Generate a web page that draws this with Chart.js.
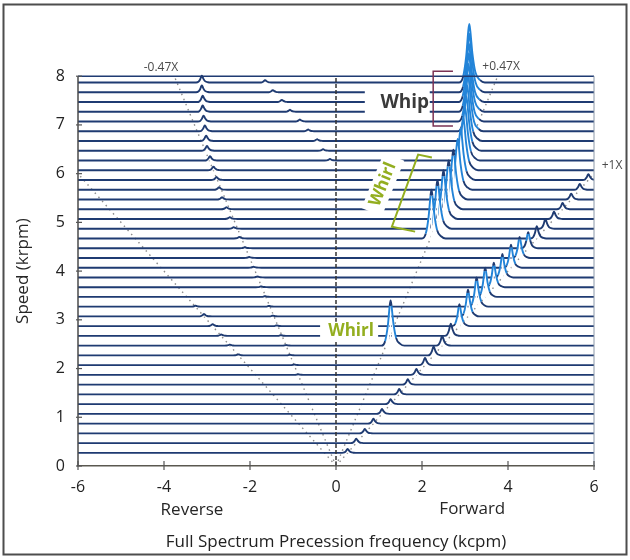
<!DOCTYPE html>
<html>
<head>
<meta charset="utf-8">
<title>Full spectrum cascade</title>
<script src="https://cdn.jsdelivr.net/npm/chart.js@4.4.1/dist/chart.umd.min.js"></script>
<style>
  html, body { margin: 0; padding: 0; background: #fff; }
  #wrap { width: 630px; height: 560px; }
</style>
</head>
<body>
<div id="wrap"><canvas id="cascade" width="630" height="560"></canvas></div>
<script>
// ===================================
// DATA
// ===================================

// rotor speed of each spectrum trace (krpm)
const speeds = [0.27, 0.47, 0.67, 0.87, 1.07, 1.27, 1.47, 1.67, 1.87, 2.07,
    2.27, 2.47, 2.67, 2.87, 3.07, 3.27, 3.47, 3.67, 3.87, 4.07,
    4.27, 4.47, 4.67, 4.87, 5.07, 5.27, 5.47, 5.67, 5.87, 6.07,
    6.27, 6.47, 6.67, 6.87, 7.07, 7.27, 7.47, 7.67, 7.87];

// forward 1X peak height (peak sits at frequency = speed)
const oneXAmp = [0.08, 0.09, 0.09, 0.10, 0.10, 0.10, 0.11, 0.11, 0.12, 0.15,
    0.18, 0.20, 0.25, 0.45, 0.55, 0.60, 0.60, 0.50, 0.48, 0.47,
    0.43, 0.33, 0.25, 0.20, 0.15, 0.13, 0.12, 0.12, 0.12, null,
    null, null, null, null, null, null, null, null, null];

// forward whirl / whip peak
const whirlFreq = [null, null, null, null, null, null, null, null, null, null,
    null, 1.27, null, null, null, null, null, null, null, null,
    null, null, 2.22, 2.36, 2.50, 2.62, 2.73, 2.83, 2.90, 2.96,
    3.00, 3.03, 3.05, 3.07, 3.08, 3.09, 3.09, 3.10, 3.10];
const whirlAmp = [null, null, null, null, null, null, null, null, null, null,
    null, 0.93, null, null, null, null, null, null, null, null,
    null, null, 1.00, 1.00, 1.00, 1.00, 1.02, 1.04, 1.06, 1.08,
    1.10, 1.12, 1.14, 1.16, 1.18, 1.20, 1.20, 1.20, 1.20];

// reverse (-0.47X) component
const revFreq = [null, null, null, null, null, null, null, null, -0.88, -0.97,
    -1.07, -1.16, -1.28, -1.38, -1.47, -1.56, -1.65, -1.74, -1.83, -1.92,
    -2.02, -2.12, -2.25, -2.38, -2.47, -2.55, -2.65, -2.72, -2.78, -2.85,
    -2.93, -3.00, -3.02, -3.05, -3.08, -3.10, -3.10, -3.12, -3.12];
const revAmp = [null, null, null, null, null, null, null, null, 0.012, 0.012,
    0.012, 0.012, 0.015, 0.015, 0.015, 0.015, 0.015, 0.015, 0.02, 0.02,
    0.02, 0.02, 0.03, 0.03, 0.035, 0.04, 0.045, 0.05, 0.06, 0.075,
    0.09, 0.10, 0.11, 0.12, 0.12, 0.13, 0.13, 0.14, 0.14];

// reverse 1X bumps (frequency = -speed)
const revOneXAmp = [null, null, null, null, null, null, null, null, null, null,
    0.02, 0.02, 0.03, 0.04, 0.05, 0.02, null, null, null, null,
    null, null, null, null, null, null, null, null, null, null,
    null, null, null, null, null, null, null, null, null];

// small mixing peaks near zero on the upper traces
const mixFreq = [null, null, null, null, null, null, null, null, null, null,
    null, null, null, null, null, null, null, null, null, null,
    null, null, null, null, null, null, null, null, null, null,
    -0.14, -0.30, -0.44, -0.65, -0.84, -1.07, -1.26, -1.47, -1.65];
const mixAmp = [null, null, null, null, null, null, null, null, null, null,
    null, null, null, null, null, null, null, null, null, null,
    null, null, null, null, null, null, null, null, null, null,
    0.03, 0.03, 0.035, 0.035, 0.04, 0.04, 0.045, 0.045, 0.05];

// dotted order lines: [freq, speed] end points from the origin
const guideMinus1X = [[0, 0], [-6, 6]];
const guideMinusHalf = [[0, 0], [-3.76, 8]];
const guidePlusHalf = [[0, 0], [3.76, 8]];
const guidePlus1X = [[0, 0], [6, 6]];
const zeroLine = [[0, 0], [0, 8]];

const xTicks = [-6, -4, -2, 0, 2, 4, 6];
const yTicks = [0, 1, 2, 3, 4, 5, 6, 7, 8];

// ===================================
// STYLE
// ===================================
const FONT = "'Open Sans', 'Noto Sans', sans-serif";
const TRACE_NAVY = '#1f3b72';
const RIDGE_BLUE = '#2384d8';
const GUIDE_GREY = '#8c8c8c';
const WHIRL_GREEN = '#93ae1f';
const X_MIN = -6, X_MAX = 6, Y_TOP = 9.1;

// relative peak profile [dx in half widths, dy in amplitude]
const peakShape = [[-1, 0], [-0.6, 0.1], [-0.3, 0.45], [-0.1, 0.88], [0, 1],
    [0.1, 0.88], [0.3, 0.5], [0.6, 0.17], [1.05, 0.04], [1.5, 0]];

function peaksFor(i) {
    const list = [];
    if (oneXAmp[i] != null) list.push([speeds[i], oneXAmp[i]]);
    if (whirlFreq[i] != null) list.push([whirlFreq[i], whirlAmp[i]]);
    if (revFreq[i] != null) list.push([revFreq[i], revAmp[i]]);
    if (revOneXAmp[i] != null) list.push([-speeds[i], revOneXAmp[i]]);
    if (mixFreq[i] != null) list.push([mixFreq[i], mixAmp[i]]);
    return list.sort((a, b) => a[0] - b[0]);
}

function tracePoints(i) {
    const s = speeds[i];
    const pts = [{ x: X_MIN, y: s }];
    peaksFor(i).forEach(([f, a]) => {
        const w = 0.12 + 0.1 * a;
        peakShape.forEach(([dx, dy]) => pts.push({ x: f + dx * w, y: s + dy * a }));
    });
    pts.push({ x: X_MAX, y: s });
    return pts;
}

const toXY = pairs => pairs.map(([x, y]) => ({ x, y }));

const traceSets = speeds.map((s, i) => ({
    data: tracePoints(i),
    borderColor: TRACE_NAVY,
    borderWidth: 1.9,
    backgroundColor: '#ffffff',
    fill: { value: s },
    pointRadius: 0,
    cubicInterpolationMode: 'monotone',
    order: 0,
    segment: {
        borderColor: c => {
            const dy = Math.abs(c.p1.y - c.p0.y);
            const dx = Math.abs(c.p1.x - c.p0.x) || 0.01;
            return (dy > 6 && dy / dx > 1.6) ? RIDGE_BLUE : TRACE_NAVY;
        }
    }
}));

const guideSets = [guideMinus1X, guideMinusHalf, guidePlusHalf, guidePlus1X].map(g => ({
    data: toXY(g),
    borderColor: GUIDE_GREY,
    borderWidth: 1.4,
    borderDash: [1.5, 4],
    pointRadius: 0,
    fill: false,
    order: 1
}));

const zeroSet = {
    data: toXY(zeroLine),
    borderColor: '#333333',
    borderWidth: 1.5,
    borderDash: [4, 2],
    pointRadius: 0,
    fill: false,
    order: -1
};

// ===================================
// OVERLAY: frame, labels, annotations
// ===================================
const overlay = {
    id: 'overlay',
    beforeDraw(chart) {
        const { ctx, width, height } = chart;
        ctx.save();
        ctx.fillStyle = '#ffffff';
        ctx.fillRect(0, 0, width, height);
        ctx.restore();
    },
    afterDraw(chart) {
        const { ctx, scales: { x, y } } = chart;
        const px = v => x.getPixelForValue(v);
        const py = v => y.getPixelForValue(v);
        const left = px(X_MIN), right = px(X_MAX), top = py(8), bottom = py(0);

        ctx.save();
        // plot frame
        ctx.lineWidth = 1.5;
        ctx.strokeStyle = '#4a4a4a';
        ctx.beginPath();
        ctx.moveTo(left, top);
        ctx.lineTo(left, bottom);
        ctx.stroke();
        ctx.strokeStyle = TRACE_NAVY;
        ctx.beginPath();
        ctx.moveTo(left, top);
        ctx.lineTo(right, top);
        ctx.stroke();
        ctx.lineWidth = 1;
        ctx.strokeStyle = '#8b98a8';
        ctx.beginPath();
        ctx.moveTo(right, top);
        ctx.lineTo(right, bottom);
        ctx.stroke();

        // tick marks
        ctx.strokeStyle = '#555555';
        ctx.lineWidth = 1.2;
        xTicks.forEach(v => {
            ctx.beginPath();
            ctx.moveTo(px(v), bottom - 5);
            ctx.lineTo(px(v), bottom + 4);
            ctx.stroke();
        });
        yTicks.forEach(v => {
            ctx.beginPath();
            ctx.moveTo(left - 2, py(v));
            ctx.lineTo(left + 4, py(v));
            ctx.stroke();
        });

        // axis words
        ctx.fillStyle = '#262626';
        ctx.textAlign = 'center';
        ctx.textBaseline = 'middle';
        ctx.font = `17px ${FONT}`;
        ctx.fillText('Reverse', px(-3.35), bottom + 44);
        ctx.fillText('Forward', px(3.17), bottom + 43);
        ctx.save();
        ctx.translate(23, (top + bottom) / 2);
        ctx.rotate(-Math.PI / 2);
        ctx.fillText('Speed (krpm)', 0, 0);
        ctx.restore();

        // order labels
        ctx.font = `12px ${FONT}`;
        ctx.fillStyle = '#4a4a4a';
        ctx.fillText('-0.47X', px(-4.07), py(8.18));
        ctx.fillText('+0.47X', px(3.84), py(8.2));
        ctx.fillText('+1X', px(6.42), py(6.17));

        // Whip label and bracket
        ctx.fillStyle = '#ffffff';
        ctx.fillRect(px(0.67), py(7.8), px(2.18) - px(0.67), py(7.2) - py(7.8));
        ctx.fillStyle = '#3a3a3a';
        ctx.font = `bold 19px ${FONT}`;
        ctx.fillText('Whip', px(1.6), py(7.45));
        ctx.strokeStyle = '#7b3354';
        ctx.lineWidth = 1.5;
        ctx.beginPath();
        ctx.moveTo(px(2.72), py(8.1));
        ctx.lineTo(px(2.26), py(8.1));
        ctx.lineTo(px(2.26), py(6.98));
        ctx.lineTo(px(2.72), py(6.98));
        ctx.stroke();

        // slanted Whirl label and bracket
        ctx.save();
        ctx.translate(px(1.09), py(5.78));
        ctx.rotate(-68 * Math.PI / 180);
        ctx.fillStyle = '#ffffff';
        ctx.fillRect(-30, -11, 60, 22);
        ctx.fillStyle = WHIRL_GREEN;
        ctx.font = `bold 17px ${FONT}`;
        ctx.fillText('Whirl', 0, 0);
        ctx.restore();
        ctx.strokeStyle = WHIRL_GREEN;
        ctx.lineWidth = 2;
        ctx.beginPath();
        ctx.moveTo(px(2.23), py(6.33));
        ctx.lineTo(px(1.91), py(6.39));
        ctx.lineTo(px(1.30), py(4.91));
        ctx.lineTo(px(1.84), py(4.81));
        ctx.stroke();

        // horizontal Whirl label
        ctx.fillStyle = '#ffffff';
        ctx.fillRect(px(-0.37), py(2.96), px(0.98) - px(-0.37), py(2.56) - py(2.96));
        ctx.fillStyle = WHIRL_GREEN;
        ctx.font = `bold 17px ${FONT}`;
        ctx.fillText('Whirl', px(0.35), py(2.76));

        // page border
        ctx.strokeStyle = '#4d4d4d';
        ctx.lineWidth = 2;
        ctx.strokeRect(3.5, 4.5, 623, 550);
        ctx.restore();
    }
};

// ===================================
// CHART
// ===================================
new Chart(document.getElementById('cascade'), {
    type: 'line',
    data: { datasets: [...traceSets, ...guideSets, zeroSet] },
    plugins: [overlay],
    options: {
        responsive: false,
        animation: false,
        layout: { padding: { left: 8, right: 36, top: 19, bottom: 8 } },
        plugins: {
            legend: { display: false },
            tooltip: { enabled: false },
            filler: { drawTime: 'beforeDatasetDraw' }
        },
        scales: {
            x: {
                type: 'linear',
                min: X_MIN,
                max: X_MAX,
                afterBuildTicks: s => { s.ticks = xTicks.map(v => ({ value: v })); },
                afterFit: s => { s.height = 86; },
                grid: { display: false, drawTicks: false },
                border: { display: true, color: '#5a5850', width: 1.5 },
                ticks: { color: '#222', padding: 12, font: { family: FONT, size: 16 } },
                title: {
                    display: true,
                    text: 'Full Spectrum Precession frequency (kcpm)',
                    color: '#222',
                    padding: { top: 0, bottom: 0 },
                    font: { family: FONT, size: 17 }
                }
            },
            y: {
                type: 'linear',
                min: 0,
                max: Y_TOP,
                afterBuildTicks: s => { s.ticks = yTicks.map(v => ({ value: v })); },
                afterFit: s => { s.width = 70; },
                grid: { display: false, drawTicks: false },
                border: { display: false },
                ticks: { color: '#222', padding: 13, font: { family: FONT, size: 16 } }
            }
        }
    }
});
</script>
</body>
</html>
